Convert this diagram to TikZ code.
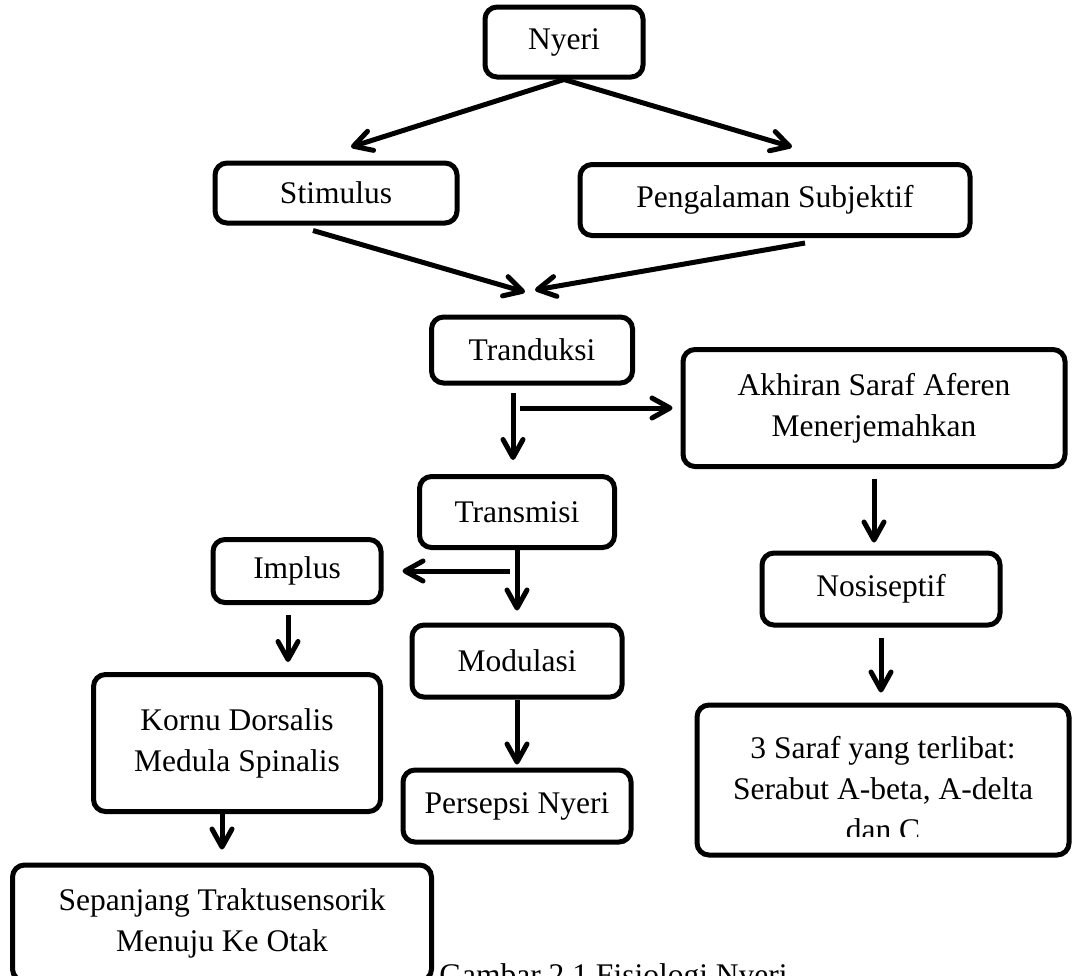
\documentclass[tikz,border=0pt]{standalone}
\usepackage{fontspec}
\setmainfont{Liberation Serif}
\usetikzlibrary{arrows.meta}
\begin{document}
\begin{tikzpicture}[x=0.5pt,y=-0.5pt,
    box/.style={draw,line width=2.5pt,rounded corners=6pt,align=center,inner sep=0pt,
      font=\fontsize{15.75}{20.5}\selectfont},
    txt/.style={align=center,inner sep=0pt,font=\fontsize{15.75}{20.5}\selectfont},
    arr/.style={line width=2.5pt,-{Straight Barb[round,length=9pt,width=10pt]}}]
    \useasboundingbox (0,0) rectangle (1081,975);
    \clip (0,0) rectangle (1081,975);
    %% Boxes
    \node[box,minimum width=79pt,minimum height=35pt] (nyeri) at (564,42) {Nyeri};
    \node[box,minimum width=121pt,minimum height=30pt] (stim) at (336,193) {Stimulus};
    \node[box,minimum width=195pt,minimum height=35.5pt] (peng) at (775,200) {Pengalaman Subjektif};
    \node[box,minimum width=100.5pt,minimum height=33pt] (tran) at (532,350) {Tranduksi};
    \node[box,minimum width=191pt,minimum height=58.5pt] (akh) at (874,408) {Akhiran Saraf Aferen\\Menerjemahkan};
    \node[box,minimum width=97.5pt,minimum height=35.5pt] (trans) at (517,512) {Transmisi};
    \node[box,minimum width=84pt,minimum height=31.5pt] (impl) at (297,571) {Implus};
    \node[box,minimum width=119pt,minimum height=36pt] (nos) at (881,589) {Nosiseptif};
    \node[box,minimum width=105pt,minimum height=36pt] (mod) at (517,661) {Modulasi};
    \node[box,minimum width=143.5pt,minimum height=68.5pt] (kornu) at (237,743) {Kornu Dorsalis\\Medula Spinalis};
    \node[box,minimum width=114pt,minimum height=36pt] (pers) at (517,806) {Persepsi Nyeri};
    \node[box,minimum width=186pt,minimum height=75pt] (saraf) at (883,780) {};
    \begin{scope}
        \clip (697,700) rectangle (1075,836);
        \node[txt] (saraftext) at (883,789) {3 Saraf yang terlibat:\\Serabut A-beta, A-delta\\dan C};
    \end{scope}
    \node[box,minimum width=209.5pt,minimum height=58pt] (sepan) at (222,923) {Sepanjang Traktusensorik\\Menuju Ke Otak};
    %% Caption
    \node[txt,anchor=base west] (capt) at (439,985) {Gambar 2.1 Fisiologi Nyeri};
    %% Free ends
    \coordinate (stimin) at (351,147);
    \coordinate (pengin) at (792,147);
    \coordinate (mergeL) at (525,292);
    \coordinate (mergeR) at (535,290);
    \coordinate (tsplit) at (513,393);
    \coordinate (tsplitR) at (520,408);
    \coordinate (tbranch) at (510,571);
    \coordinate (implout) at ([xshift=-4.5pt]impl.south);
    \coordinate (kornuout) at ([xshift=-7.5pt]kornu.south);
    %% Arrows
    \draw[arr] (nyeri.south) -- (stimin);
    \draw[arr] (nyeri.south) -- (pengin);
    \draw[arr] ([xshift=-11.5pt,yshift=-2.5pt]stim.south) -- (mergeL);
    \draw[arr] ([xshift=15pt,yshift=-2.5pt]peng.south) -- (mergeR);
    \draw[arr,shorten >=7pt] (tsplit) -- (tsplit |- trans.north);
    \draw[arr,shorten >=4pt] (tsplitR) -- (akh.west);
    \draw[arr,shorten <=5pt,shorten >=4pt] (akh.south) -- (akh.south |- nos.north);
    \draw[arr,shorten >=6pt] (trans.south) -- (mod.north);
    \draw[arr,shorten >=9.5pt] (tbranch) -- (impl.east);
    \draw[arr,shorten <=5pt,shorten >=5pt] (implout) -- (implout |- kornu.north);
    \draw[arr,shorten >=1.5pt] (mod.south) -- (pers.north);
    \draw[arr,shorten <=5pt,shorten >=5pt] (nos.south) -- (nos.south |- saraf.north);
    \draw[arr,shorten >=6.5pt] (kornuout) -- (kornuout |- sepan.north);
\end{tikzpicture}
\end{document}
